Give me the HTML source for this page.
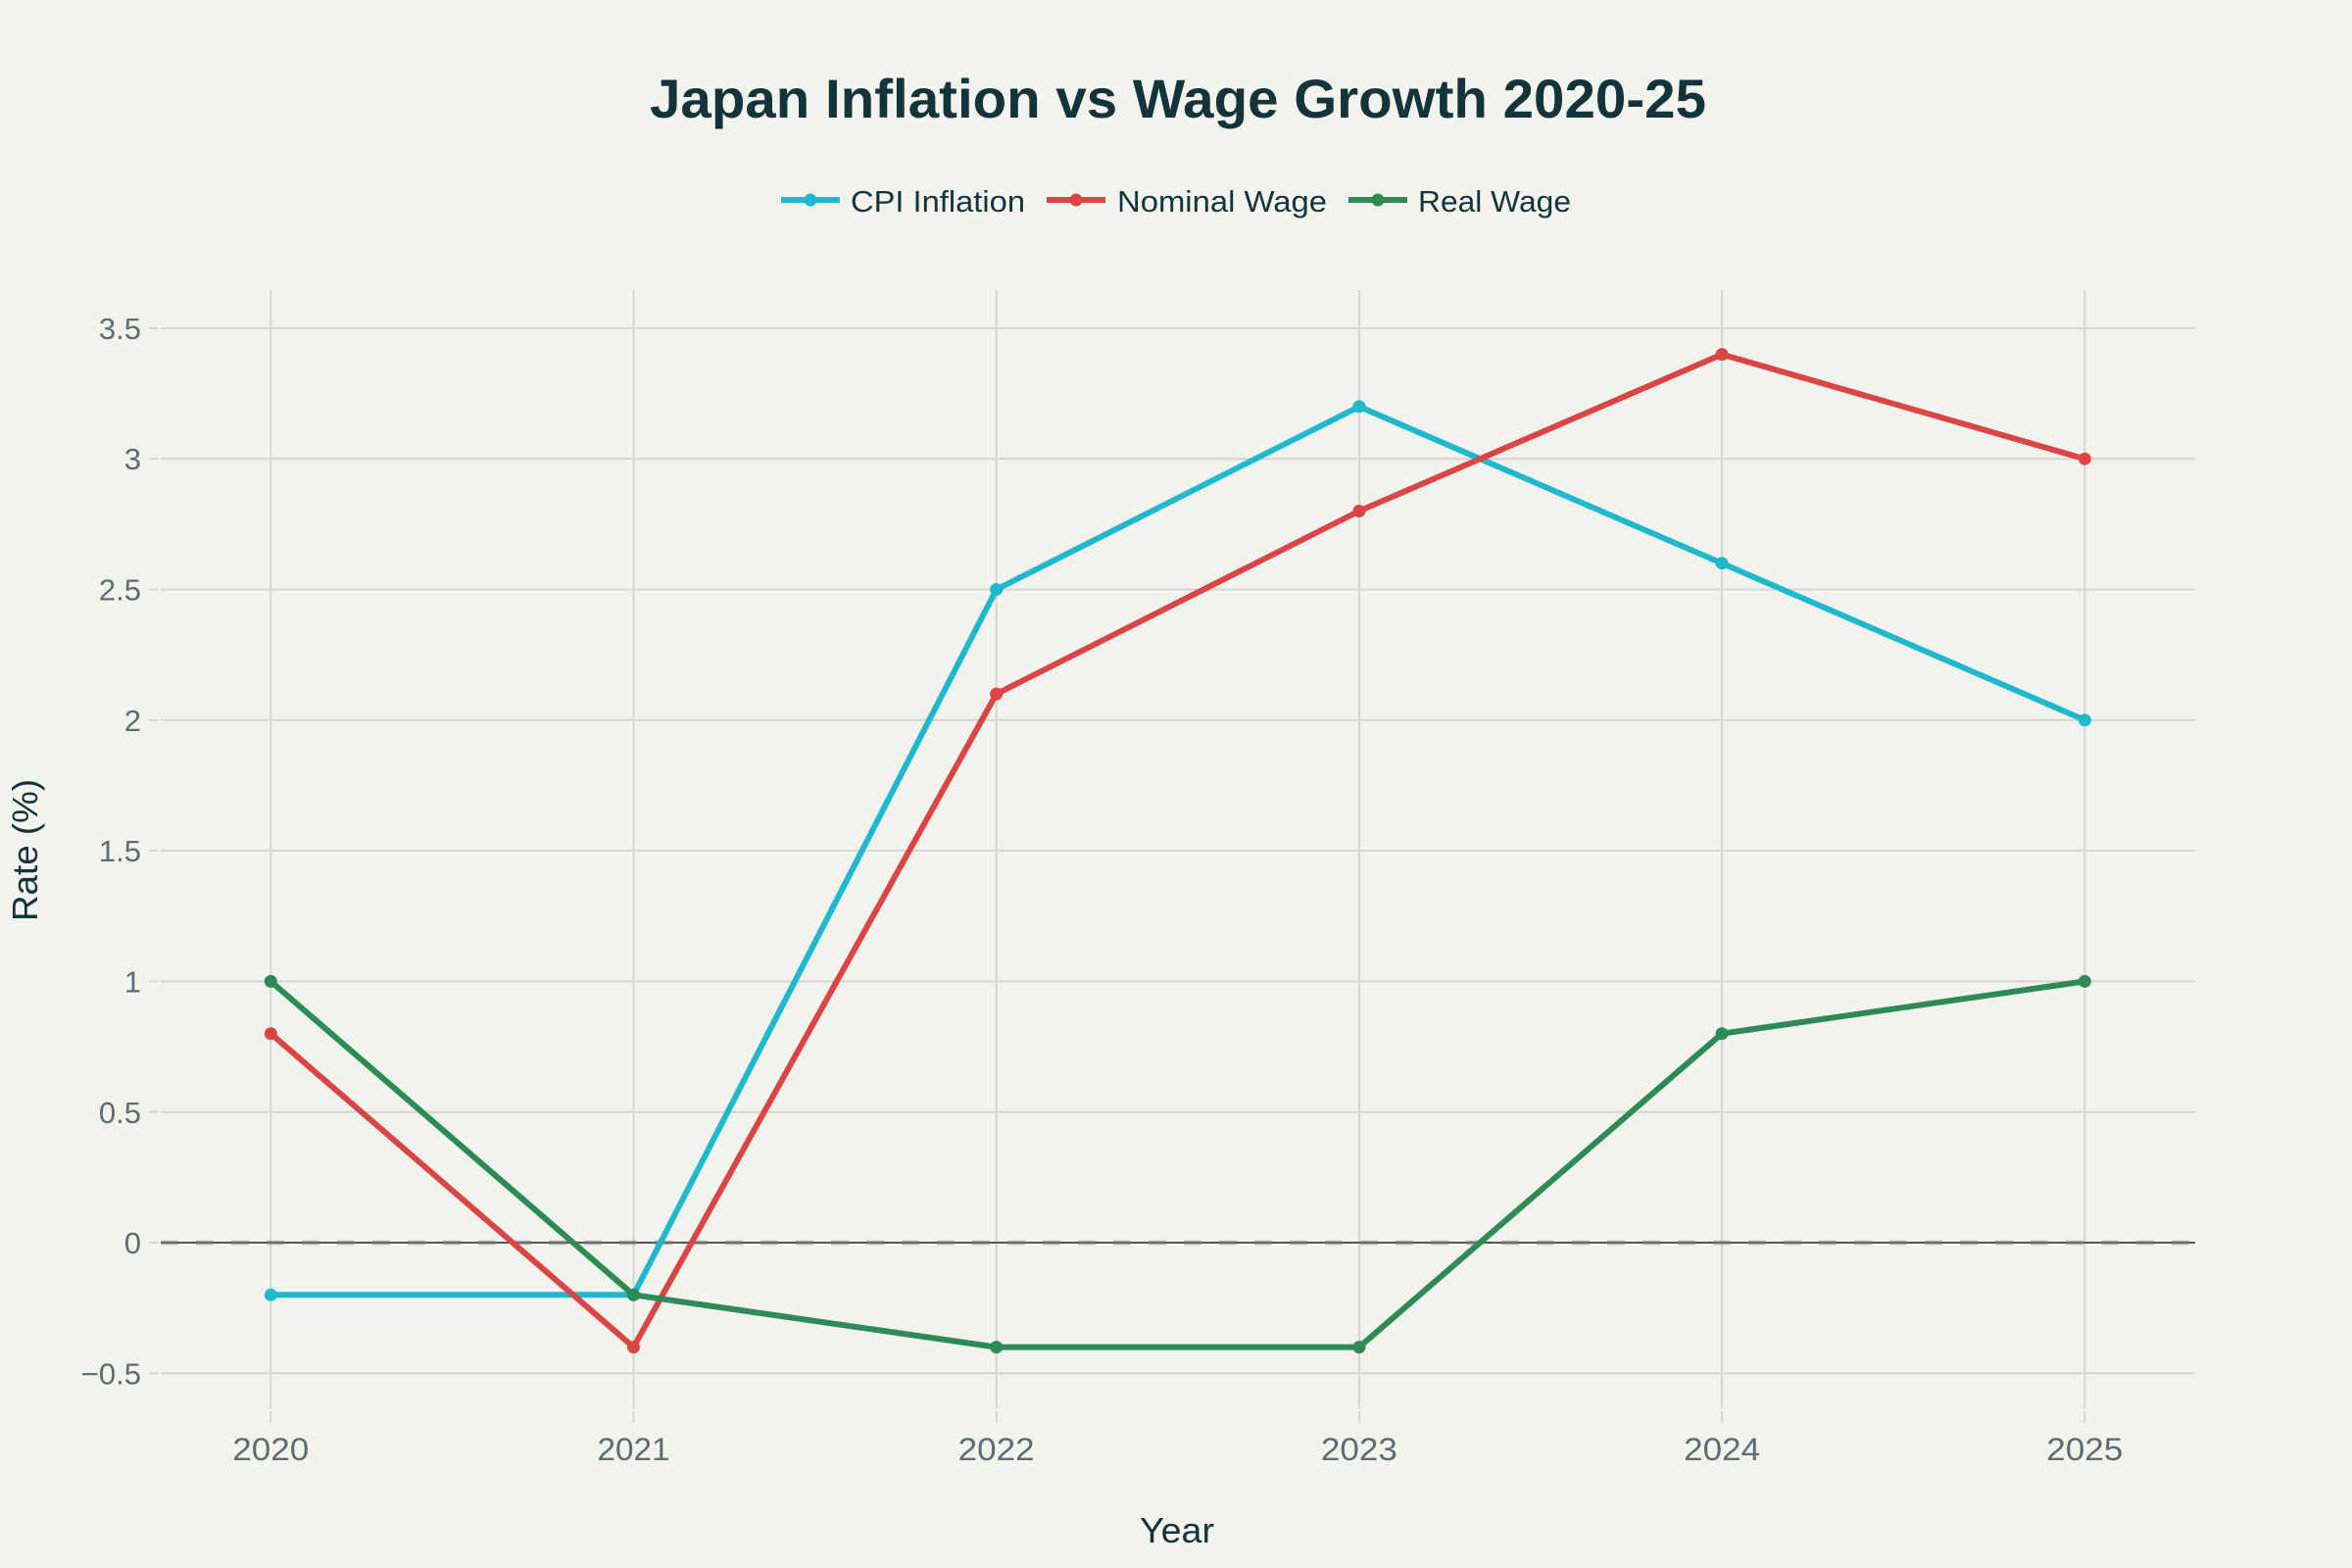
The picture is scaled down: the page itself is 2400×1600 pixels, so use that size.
<!DOCTYPE html>
<html>
<head>
<meta charset="utf-8">
<style>
  html, body { margin: 0; padding: 0; background: #F3F3EE; }
  svg { display: block; }
  text { font-family: "Liberation Sans", Arial, sans-serif; }
</style>
</head>
<body>
<svg width="2400" height="1600" viewBox="0 0 2400 1600" xmlns="http://www.w3.org/2000/svg">
  <rect x="0" y="0" width="2400" height="1600" fill="#F3F3EE"/>

  <!-- Title -->
  <text x="1202" y="120" text-anchor="middle" font-size="56" font-weight="bold" fill="#13343B" textLength="1078" lengthAdjust="spacingAndGlyphs">Japan Inflation vs Wage Growth 2020-25</text>

  <!-- Legend -->
  <g>
    <line x1="797" y1="204" x2="857" y2="204" stroke="#1FB8CD" stroke-width="6"/>
    <circle cx="827" cy="204" r="6.5" fill="#1FB8CD"/>
    <text x="868" y="216" font-size="31" fill="#13343B" textLength="178" lengthAdjust="spacingAndGlyphs">CPI Inflation</text>

    <line x1="1068" y1="204" x2="1128" y2="204" stroke="#DB4545" stroke-width="6"/>
    <circle cx="1098" cy="204" r="6.5" fill="#DB4545"/>
    <text x="1140" y="216" font-size="31" fill="#13343B" textLength="214" lengthAdjust="spacingAndGlyphs">Nominal Wage</text>

    <line x1="1376" y1="204" x2="1436" y2="204" stroke="#2E8B57" stroke-width="6"/>
    <circle cx="1406" cy="204" r="6.5" fill="#2E8B57"/>
    <text x="1447" y="216" font-size="31" fill="#13343B" textLength="156" lengthAdjust="spacingAndGlyphs">Real Wage</text>
  </g>

  <!-- Vertical gridlines -->
  <g stroke="#D8D5CF" stroke-width="2">
    <line x1="276.3" y1="296" x2="276.3" y2="1437"/>
    <line x1="646.5" y1="296" x2="646.5" y2="1437"/>
    <line x1="1016.7" y1="296" x2="1016.7" y2="1437"/>
    <line x1="1386.9" y1="296" x2="1386.9" y2="1437"/>
    <line x1="1757.1" y1="296" x2="1757.1" y2="1437"/>
    <line x1="2127.3" y1="296" x2="2127.3" y2="1437"/>
    <!-- x ticks -->
    <line x1="276.3" y1="1440" x2="276.3" y2="1452"/>
    <line x1="646.5" y1="1440" x2="646.5" y2="1452"/>
    <line x1="1016.7" y1="1440" x2="1016.7" y2="1452"/>
    <line x1="1386.9" y1="1440" x2="1386.9" y2="1452"/>
    <line x1="1757.1" y1="1440" x2="1757.1" y2="1452"/>
    <line x1="2127.3" y1="1440" x2="2127.3" y2="1452"/>
  </g>

  <!-- Horizontal gridlines -->
  <g stroke="#D8D5CF" stroke-width="2">
    <line x1="164" y1="334.9" x2="2240" y2="334.9"/>
    <line x1="164" y1="468.2" x2="2240" y2="468.2"/>
    <line x1="164" y1="601.5" x2="2240" y2="601.5"/>
    <line x1="164" y1="734.8" x2="2240" y2="734.8"/>
    <line x1="164" y1="868.1" x2="2240" y2="868.1"/>
    <line x1="164" y1="1001.4" x2="2240" y2="1001.4"/>
    <line x1="164" y1="1134.7" x2="2240" y2="1134.7"/>
    <line x1="164" y1="1401.3" x2="2240" y2="1401.3"/>
    <!-- y ticks -->
    <line x1="152" y1="334.9" x2="162" y2="334.9"/>
    <line x1="152" y1="468.2" x2="162" y2="468.2"/>
    <line x1="152" y1="601.5" x2="162" y2="601.5"/>
    <line x1="152" y1="734.8" x2="162" y2="734.8"/>
    <line x1="152" y1="868.1" x2="162" y2="868.1"/>
    <line x1="152" y1="1001.4" x2="162" y2="1001.4"/>
    <line x1="152" y1="1134.7" x2="162" y2="1134.7"/>
    <line x1="152" y1="1268" x2="162" y2="1268"/>
    <line x1="152" y1="1401.3" x2="162" y2="1401.3"/>
  </g>

  <!-- Zero line -->
  <line x1="164" y1="1268" x2="2240" y2="1268" stroke="#555555" stroke-width="2"/>
  <line x1="164" y1="1268" x2="2240" y2="1268" stroke="#808080" stroke-opacity="0.55" stroke-width="4.5" stroke-dasharray="18,18"/>

  <!-- Y tick labels -->
  <g font-size="31" fill="#5F6B72" text-anchor="end">
    <text x="144" y="346">3.5</text>
    <text x="144" y="479">3</text>
    <text x="144" y="612.5">2.5</text>
    <text x="144" y="746">2</text>
    <text x="144" y="879">1.5</text>
    <text x="144" y="1012.5">1</text>
    <text x="144" y="1146">0.5</text>
    <text x="144" y="1279">0</text>
    <text x="144" y="1412.5">−0.5</text>
  </g>

  <!-- X tick labels -->
  <g font-size="32" fill="#5F6B72" text-anchor="middle">
    <text x="276.3" y="1490" textLength="78" lengthAdjust="spacingAndGlyphs">2020</text>
    <text x="646.5" y="1490" textLength="74" lengthAdjust="spacingAndGlyphs">2021</text>
    <text x="1016.7" y="1490" textLength="78" lengthAdjust="spacingAndGlyphs">2022</text>
    <text x="1386.9" y="1490" textLength="78" lengthAdjust="spacingAndGlyphs">2023</text>
    <text x="1757.1" y="1490" textLength="78" lengthAdjust="spacingAndGlyphs">2024</text>
    <text x="2127.3" y="1490" textLength="78" lengthAdjust="spacingAndGlyphs">2025</text>
  </g>

  <!-- Axis titles -->
  <text x="1201" y="1574" text-anchor="middle" font-size="36" fill="#13343B" textLength="76" lengthAdjust="spacingAndGlyphs">Year</text>
  <text transform="translate(38,867.5) rotate(-90)" text-anchor="middle" font-size="36" fill="#13343B" textLength="145" lengthAdjust="spacingAndGlyphs">Rate (%)</text>

  <!-- CPI Inflation -->
  <polyline fill="none" stroke="#1FB8CD" stroke-width="6" stroke-linejoin="round"
    points="276.3,1321.3 646.5,1321.3 1016.7,601.5 1386.9,414.9 1757.1,574.8 2127.3,734.8"/>
  <g fill="#1FB8CD">
    <circle cx="276.3" cy="1321.3" r="6.5"/>
    <circle cx="646.5" cy="1321.3" r="6.5"/>
    <circle cx="1016.7" cy="601.5" r="6.5"/>
    <circle cx="1386.9" cy="414.9" r="6.5"/>
    <circle cx="1757.1" cy="574.8" r="6.5"/>
    <circle cx="2127.3" cy="734.8" r="6.5"/>
  </g>

  <!-- Nominal Wage -->
  <polyline fill="none" stroke="#DB4545" stroke-width="6" stroke-linejoin="round"
    points="276.3,1054.7 646.5,1374.6 1016.7,708.1 1386.9,521.5 1757.1,361.6 2127.3,468.2"/>
  <g fill="#DB4545">
    <circle cx="276.3" cy="1054.7" r="6.5"/>
    <circle cx="646.5" cy="1374.6" r="6.5"/>
    <circle cx="1016.7" cy="708.1" r="6.5"/>
    <circle cx="1386.9" cy="521.5" r="6.5"/>
    <circle cx="1757.1" cy="361.6" r="6.5"/>
    <circle cx="2127.3" cy="468.2" r="6.5"/>
  </g>

  <!-- Real Wage -->
  <polyline fill="none" stroke="#2E8B57" stroke-width="6" stroke-linejoin="round"
    points="276.3,1001.4 646.5,1321.3 1016.7,1374.6 1386.9,1374.6 1757.1,1054.7 2127.3,1001.4"/>
  <g fill="#2E8B57">
    <circle cx="276.3" cy="1001.4" r="6.5"/>
    <circle cx="646.5" cy="1321.3" r="6.5"/>
    <circle cx="1016.7" cy="1374.6" r="6.5"/>
    <circle cx="1386.9" cy="1374.6" r="6.5"/>
    <circle cx="1757.1" cy="1054.7" r="6.5"/>
    <circle cx="2127.3" cy="1001.4" r="6.5"/>
  </g>
</svg>
</body>
</html>
